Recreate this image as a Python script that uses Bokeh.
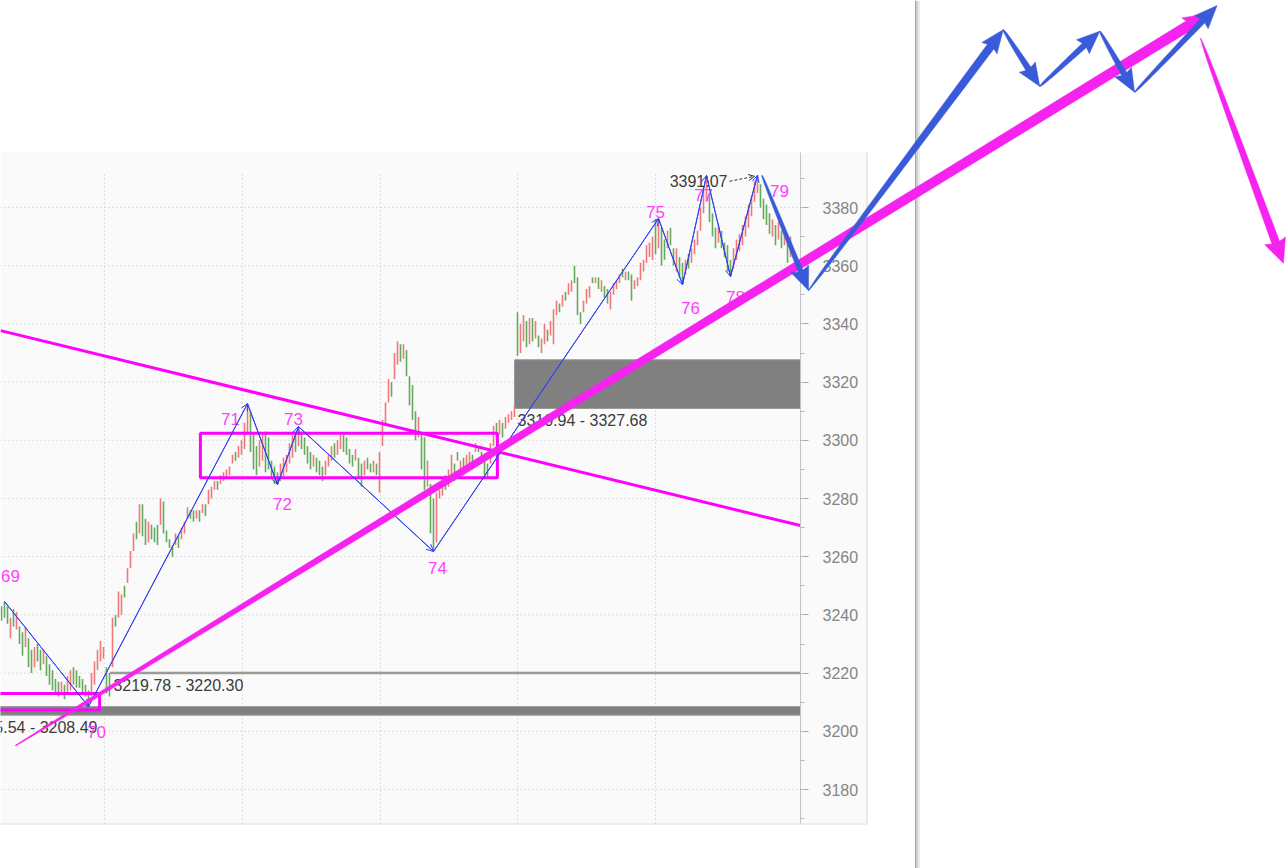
import math
from bokeh.plotting import figure
from bokeh.models import (Range1d, SingleIntervalTicker, LinearAxis, PolyAnnotation,
                          Arrow, OpenHead, ColumnDataSource)
from bokeh.core.properties import value
from bokeh.embed import file_html
from bokeh.resources import INLINE

# ---------------- data ----------------
bar_low = [
    3238, 3239, 3237, 3232, 3236, 3235, 3230, 3226, 3229, 3222,
    3220, 3222, 3224, 3221, 3223, 3219, 3216, 3214, 3213, 3212,
    3213, 3211, 3213, 3214, 3216, 3215, 3215, 3213, 3212, 3208.5,
    3212, 3216, 3221, 3224, 3225, 3213, 3212, 3222, 3236, 3239,
    3240, 3246, 3251, 3256, 3262, 3266, 3268, 3267, 3264, 3265,
    3266, 3265, 3264, 3271, 3268, 3265, 3263, 3260, 3264, 3263,
    3266, 3268, 3273, 3273, 3272, 3273, 3272, 3275, 3274, 3278,
    3280, 3283, 3283, 3285, 3286, 3287, 3288, 3292, 3293, 3294,
    3295, 3297, 3302, 3296, 3290, 3288, 3291, 3293, 3289, 3290,
    3287, 3285, 3284.8, 3286, 3287, 3289, 3292, 3294, 3296, 3298,
    3297, 3295, 3292, 3290, 3291, 3289, 3288, 3286, 3288, 3291,
    3293, 3294, 3295, 3297, 3296, 3295, 3292, 3291, 3293, 3287,
    3284, 3288, 3290, 3289, 3289, 3288, 3282, 3298, 3305, 3313,
    3315, 3321, 3326, 3327, 3328, 3322, 3312, 3307, 3300, 3301,
    3290, 3283, 3284, 3268, 3261.8, 3265, 3280, 3281, 3283, 3284,
    3287, 3286, 3293, 3290, 3288, 3289, 3291, 3290, 3296, 3296,
    3292, 3288, 3287, 3292, 3298, 3300, 3302, 3301, 3304, 3306,
    3307, 3308, 3329, 3330, 3334, 3332, 3333, 3334, 3335, 3332,
    3330, 3333, 3334, 3336, 3333, 3343, 3344, 3346, 3348, 3350,
    3351, 3354, 3343, 3340, 3344, 3347, 3349, 3354, 3354, 3352,
    3351, 3349, 3347, 3345, 3350, 3352, 3354, 3356, 3355, 3355,
    3348, 3352, 3353, 3355, 3358, 3361, 3363, 3362, 3364, 3366,
    3360, 3362, 3366, 3367, 3360, 3358, 3356, 3353.5, 3357, 3359,
    3361, 3364, 3367, 3372, 3378, 3382, 3375, 3370, 3366, 3368,
    3366, 3363, 3358, 3356.3, 3359, 3362, 3365, 3367, 3370, 3373,
    3377, 3382, 3385, 3380, 3376, 3374, 3371, 3370, 3367, 3369,
    3366, 3367, 3361, 3363,
]
bar_high = [
    3243, 3244.6, 3243, 3239, 3242, 3241, 3236, 3234, 3236, 3232,
    3228, 3229, 3230, 3228, 3228, 3226, 3223, 3221, 3218, 3217,
    3217, 3216, 3219, 3221, 3222, 3221, 3219, 3218, 3216, 3214,
    3220, 3224, 3228, 3231, 3229, 3222, 3220, 3239, 3240, 3248,
    3247, 3250, 3256, 3262, 3268, 3272, 3278, 3278, 3273, 3272,
    3271, 3270, 3271, 3280, 3279, 3269, 3266, 3264, 3268, 3267,
    3270, 3272, 3277, 3276, 3276, 3276, 3276, 3278, 3278, 3283,
    3284, 3286, 3286, 3288, 3289, 3290, 3291, 3295, 3296, 3298,
    3300, 3306, 3312.6, 3310, 3302, 3298, 3300, 3302, 3303, 3301,
    3293, 3291, 3289, 3292, 3294, 3295, 3299, 3302, 3303, 3304.7,
    3303, 3301, 3298, 3296, 3295, 3294, 3293, 3291, 3293, 3295,
    3298, 3299, 3300, 3302, 3302, 3301, 3297, 3295, 3297, 3294,
    3292, 3293, 3294, 3292, 3293, 3292, 3296, 3307, 3313, 3321,
    3320, 3330, 3334, 3333, 3333, 3331, 3322, 3319, 3310, 3308,
    3302, 3301, 3293, 3285, 3280, 3282, 3283, 3287, 3288, 3290,
    3295, 3292, 3296, 3293, 3294, 3295, 3296, 3295, 3299, 3298,
    3296, 3294, 3292, 3299, 3305, 3306, 3307, 3306, 3308, 3309,
    3310, 3312, 3344, 3340, 3343, 3341, 3342, 3342, 3341, 3336,
    3335, 3340, 3338, 3341, 3345, 3348, 3347, 3350, 3351, 3354,
    3355, 3360, 3356, 3344, 3348, 3352, 3353, 3356, 3356, 3356,
    3355, 3353, 3352, 3351, 3354, 3355, 3357, 3359, 3358, 3358,
    3357, 3355, 3356, 3361, 3362, 3367, 3368, 3370, 3376, 3376.2,
    3373, 3369, 3372, 3373, 3366, 3366, 3363, 3361, 3362, 3364,
    3366, 3369, 3372, 3380, 3387, 3391, 3385, 3378, 3373, 3374,
    3372, 3368, 3367, 3362, 3366, 3369, 3371, 3374, 3377, 3381,
    3384, 3389, 3391.07, 3388, 3383, 3381, 3378, 3376, 3374, 3375,
    3372, 3373, 3369, 3370,
]
bar_dir = list(
    "gggrgrggrg" "grggrggggg" "rgrrgggggg" "rrrrrggrgr" "rgrrrgrggr"
    "gggrggggrg" "rrrggrgrgr" "rrgrrrrrgr" "rrrgggrrgg" "gggrrrrrgr"
    "ggggrgggrr" "rgrrggggrg" "grggrgrrrr" "grrgrggggr" "ggrggrrrgr"
    "rggrgrrgrg" "gggrrgrgrr" "rrgrrgrgrg" "rrgrrrgrgr" "rgggrrrgrg"
    "rggrrrrgrg" "grrrrrrrgr" "ggrggrggrg" "rrrrrrgggr" "ggggrrrrrr"
    "rrrggggrgr" "grgr"
)

pivot_idx = [1, 29, 82, 92, 99, 144, 219, 227, 235, 243, 252]
pivot_price = [3244.6, 3208.5, 3312.6, 3284.8, 3304.7, 3261.8, 3376.2, 3353.5, 3391.0, 3356.3, 3391.07]
pivot_label = ["69", "70", "71", "72", "73", "74", "75", "76", "77", "78", "79"]

zone_start = [171, 36.3, -12.3]
zone_low = [3310.94, 3219.78, 3205.54]
zone_high = [3327.68, 3220.30, 3208.49]
zone_text = ["3310.94 - 3327.68", "3219.78 - 3220.30", "3205.54 - 3208.49"]

box_left = [66.3, -12.0]
box_right = [165.3, 32.7]
box_low = [3287.1, 3207.3]
box_high = [3302.4, 3213.0]

trend_x = [-0.3, 266.3]
trend_y = [3337.7, 3270.7]

session_breaks = [34.3, 80.3, 126.3, 172.0, 218.0]
price_ticks = [3180, 3200, 3220, 3240, 3260, 3280, 3300, 3320, 3340, 3360, 3380]

high_label = "3391.07"

# original chart window: price span and the bar index of its price axis
chart_bottom, chart_top = 3168.3, 3398.9
axis_at = 266.33

# hand-drawn forecast waves (bar index, price)
wave_x = [253.5, 269.0, 333.9, 346.1, 366.1, 377.7, 405.2]
wave_y = [3391.0, 3351.5, 3441.1, 3421.6, 3440.6, 3419.6, 3449.4]
big_up_x = [4.7, 402.3]
big_up_y = [3195.1, 3446.7]
big_down_x = [399.7, 427.3]
big_down_y = [3438.1, 3360.8]

# ---------------- layout ----------------
W, H = 1288, 868
SX, SY = 3.0, 2.91
X0 = -1 / 3
X1 = X0 + W / SX
Y1 = 3380 + 207 / SY
Y0 = Y1 - H / SY


def px(x, y):
    return ((x - X0) * SX, (Y1 - y) * SY)


def dt(u, v):
    return (X0 + u / SX, Y1 - v / SY)


def arrow_poly(xa, ya, xb, yb, w0, w1, head_len=21, head_hw=9.5, n=16):
    ax, ay = px(xa, ya)
    bx, by = px(xb, yb)
    L = math.hypot(bx - ax, by - ay)
    ux, uy = (bx - ax) / L, (by - ay) / L
    nx, ny = -uy, ux
    s = L - head_len
    left, right = [], []
    for k in range(n + 1):
        t = k / n
        w = w0 + (w1 - w0) * math.sqrt(t)
        cx, cy = ax + ux * s * t, ay + uy * s * t
        left.append((cx + nx * w / 2, cy + ny * w / 2))
        right.append((cx - nx * w / 2, cy - ny * w / 2))
    hx, hy = ax + ux * (s - 2), ay + uy * (s - 2)
    pts = left + [(hx + nx * head_hw, hy + ny * head_hw), (bx, by),
                  (hx - nx * head_hw, hy - ny * head_hw)] + right[::-1]
    xs, ys = zip(*[dt(u, v) for u, v in pts])
    return list(xs), list(ys)


RED, GREEN = "#f07878", "#64aa5a"
ZZ = "#3040f0"
MAG = "#ff00ff"
MAG_LBL = "#ff40ff"
HAND_BLUE = "#3a5bd9"
HAND_MAG = "#f522f0"
FONT = value("Liberation Sans")
GRID = "#c4c4c4"

p = figure(frame_width=W, frame_height=H,
           x_range=Range1d(X0, X1), y_range=Range1d(Y0, Y1),
           x_axis_type=None, y_axis_type=None,
           toolbar_location=None, output_backend="svg",
           min_border=0, background_fill_color="white", border_fill_color="white",
           outline_line_color=None)

panel_right = dt(866, 0)[0]
one_px_x = 1 / SX
one_px_y = 1 / SY

# chart panel background and its borders
p.quad(left=[X0], right=[panel_right], bottom=[chart_bottom], top=[chart_top],
       fill_color="#fafafa", line_color=None, level="underlay")
p.quad(left=[panel_right], right=[panel_right + one_px_x], bottom=[chart_bottom], top=[chart_top],
       fill_color="#d4d4d4", line_color=None, level="underlay")
p.quad(left=[X0], right=[panel_right + one_px_x], bottom=[chart_bottom - one_px_y], top=[chart_bottom],
       fill_color="#dcdcdc", line_color=None, level="underlay")
# window separator with shadow
for (xa_, xb_, col) in [(914.5, 916, "#a4a4a4"), (916, 917.5, "#cfcfcf"), (917.5, 919.5, "#ebebeb")]:
    p.quad(left=[dt(xa_, 0)[0]], right=[dt(xb_, 0)[0]], bottom=[Y0], top=[Y1],
           fill_color=col, line_color=None, level="underlay")

# dotted grid of the original chart
p.segment(x0=[X0] * len(price_ticks), y0=price_ticks, x1=[axis_at] * len(price_ticks), y1=price_ticks,
          line_color=GRID, line_dash="1 3", line_width=1, level="underlay")
grid_top = dt(0, 173)[1]
p.segment(x0=session_breaks, y0=[chart_bottom] * len(session_breaks), x1=session_breaks,
          y1=[grid_top] * len(session_breaks),
          line_color=GRID, line_dash="1 3", line_width=1, level="underlay")

# price axis at the right edge of the original chart
yax = LinearAxis(fixed_location=axis_at, bounds=(chart_bottom, chart_top),
                 ticker=SingleIntervalTicker(interval=20, num_minor_ticks=2))
yax.axis_line_color = "#c4c4c4"
yax.major_tick_line_color = "#a8a8a8"
yax.minor_tick_line_color = "#b8b8b8"
yax.major_tick_out = 8
yax.major_tick_in = 0
yax.minor_tick_out = 4
yax.minor_tick_in = 0
yax.major_label_text_font = "Liberation Sans"
yax.major_label_text_font_size = "16px"
yax.major_label_text_color = "#858585"
yax.major_label_standoff = 14
p.add_layout(yax, "right")

# zones
zsrc = ColumnDataSource(dict(left=zone_start, right=[axis_at] * 3, bottom=zone_low, top=zone_high,
                             text=zone_text))
p.quad(left="left", right="right", bottom="bottom", top="top", source=zsrc,
       fill_color="#808080", line_color="#9a9a9a", line_width=1)

# bars
idx = list(range(len(bar_low)))
colors = [RED if d == "r" else GREEN for d in bar_dir]
p.segment(x0=idx, y0=bar_low, x1=idx, y1=bar_high, line_color=colors, line_width=1.6)

# magenta boxes and trendline
p.quad(left=box_left, right=box_right, bottom=box_low, top=box_high,
       fill_color=None, line_color=MAG, line_width=3)
p.line(trend_x, trend_y, line_color=MAG, line_width=3)

# zigzag
p.line(pivot_idx, pivot_price, line_color=ZZ, line_width=1)
zz = ColumnDataSource(dict(x0=pivot_idx[:-1], y0=pivot_price[:-1], x1=pivot_idx[1:], y1=pivot_price[1:]))
p.add_layout(Arrow(end=OpenHead(size=7, line_color=ZZ, line_width=1), x_start="x0", y_start="y0",
                   x_end="x1", y_end="y1", source=zz, line_color=ZZ, line_width=1, level="glyph"))

# zone texts
p.text(x="left", y="bottom", text="text", source=zsrc, x_offset=3, y_offset=12,
       text_font=FONT, text_font_size="16px", text_color="#3c3c3c",
       text_align="left", text_baseline="middle")

# pivot labels
lbl_dx = [6, 8, -17, 5, -5, 4, -3, 8, -3, 5, 22]
lbl_dy = [-26, 25, 15, 19, -8, 17, -7, 23, 20, 21, 16]
psrc = ColumnDataSource(dict(x=pivot_idx, y=pivot_price, text=pivot_label, dx=lbl_dx, dy=lbl_dy))
p.text(x="x", y="y", text="text", source=psrc, x_offset="dx", y_offset="dy",
       text_font=FONT, text_font_size="17px", text_color=MAG_LBL,
       text_align="center", text_baseline="middle")

# 3391.07 label with dashed arrow
hx, hy = pivot_idx[-1], pivot_price[-1]
p.text(x=[hx], y=[hy], text=[high_label], x_offset=-30, y_offset=6,
       text_font=FONT, text_font_size="16px", text_color="#3c3c3c",
       text_align="right", text_baseline="middle")
u, v = px(hx, hy)
sx0, sy0 = dt(u - 28, v + 6)
sx1, sy1 = dt(u - 3, v + 1)
p.add_layout(Arrow(end=OpenHead(size=6, line_color="#333333", line_width=1),
                   x_start=sx0, y_start=sy0, x_end=sx1, y_end=sy1,
                   line_color="#333333", line_width=1, line_dash="3 2"))

# hand-drawn arrows
xs, ys = arrow_poly(big_up_x[0], big_up_y[0], big_up_x[1], big_up_y[1], 0.8, 10.5, 23, 10)
p.add_layout(PolyAnnotation(xs=xs, ys=ys, fill_color=HAND_MAG, fill_alpha=1,
                            line_color=HAND_MAG, line_alpha=1, line_width=0.5))
xs, ys = arrow_poly(big_down_x[0], big_down_y[0], big_down_x[1], big_down_y[1], 0.5, 8, 22, 11)
p.add_layout(PolyAnnotation(xs=xs, ys=ys, fill_color=HAND_MAG, fill_alpha=1,
                            line_color=HAND_MAG, line_alpha=1, line_width=0.5))
wave_w = [5, 8, 6, 6, 6, 6]
for k in range(len(wave_x) - 1):
    xs, ys = arrow_poly(wave_x[k], wave_y[k], wave_x[k + 1], wave_y[k + 1], 0.8, wave_w[k], 21, 9.5)
    p.add_layout(PolyAnnotation(xs=xs, ys=ys, fill_color=HAND_BLUE, fill_alpha=1,
                                line_color=HAND_BLUE, line_alpha=1, line_width=0.5))

open("out.html", "w").write(file_html(p, INLINE))
